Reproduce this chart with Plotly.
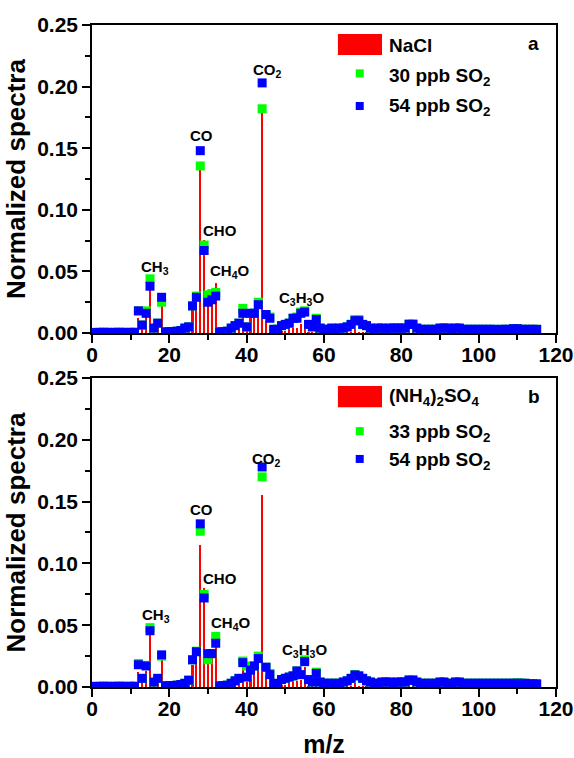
import plotly.graph_objects as go

# m/z channels
mz = list(range(1, 116))

# panel a: NaCl seed
a_nacl = [0, 0, 0, 0, 0, 0, 0, 0, 0, 0,
          0, 0.012, 0.004, 0.014, 0.042, 0.003, 0.005, 0.025, 0.0005, 0.0005,
          0.0005, 0.0005, 0.001, 0.002, 0.003, 0.020, 0.025, 0.135, 0.0758, 0.022,
          0.024, 0.041, 0.0005, 0.0005, 0.0005, 0.001, 0.002, 0.005, 0.016, 0.003,
          0.012, 0.012, 0.015, 0.182, 0.010, 0.006, 0.001, 0.001, 0.002, 0.002,
          0.003, 0.004, 0.004, 0.007, 0.007, 0.001, 0.001, 0.002, 0.0005, 0.0005,
          0.0005, 0.0005, 0.0005, 0.0005, 0.0005, 0.0005, 0.0005, 0.003, 0.0005, 0.0005,
          0.0005, 0.0005, 0.0005, 0.0005, 0.0005, 0.0005, 0.0005, 0.0005, 0.0005, 0.0005,
          0.0005, 0.001, 0.0005, 0.0005, 0.0005, 0.0005, 0.0005, 0.0005, 0.0005, 0.0005,
          0.0005, 0.0005, 0.0005, 0.0005, 0.0005, 0.0005, 0.0005, 0.0005, 0.0005, 0.0005,
          0.0005, 0.0005, 0.0005, 0.0005, 0.0005, 0.0005, 0.0005, 0.0005, 0.0005, 0.0005,
          0.0005, 0.0005, 0.0005, 0.0005, 0.0005]
a_so2_30 = [0.0005, 0.0005, 0.0006, 0.0005, 0.0005, 0.0005, 0.0006, 0.0005, 0.0005, 0.0005,
            0.0006, 0.018, 0.0065, 0.018, 0.044, 0.004, 0.008, 0.025, 0.001, 0.001,
            0.0012, 0.0015, 0.002, 0.004, 0.005, 0.022, 0.030, 0.1356, 0.0714, 0.031,
            0.032, 0.033, 0.001, 0.001, 0.0015, 0.004, 0.006, 0.008, 0.020, 0.005,
            0.016, 0.016, 0.025, 0.182, 0.015, 0.013, 0.003, 0.003, 0.006, 0.007,
            0.008, 0.012, 0.013, 0.017, 0.018, 0.007, 0.005, 0.012, 0.004, 0.003,
            0.003, 0.004, 0.003, 0.004, 0.004, 0.005, 0.007, 0.011, 0.011, 0.007,
            0.006, 0.004, 0.003, 0.004, 0.004, 0.003, 0.004, 0.004, 0.004, 0.004,
            0.004, 0.0075, 0.0075, 0.004, 0.003, 0.003, 0.003, 0.003, 0.003, 0.004,
            0.004, 0.004, 0.003, 0.004, 0.004, 0.003, 0.003, 0.003, 0.003, 0.003,
            0.003, 0.003, 0.003, 0.003, 0.0025, 0.003, 0.003, 0.003, 0.0035, 0.0035,
            0.003, 0.003, 0.003, 0.003, 0.003]
a_so2_54 = [0.0005, 0.0005, 0.0006, 0.0005, 0.0005, 0.0005, 0.0006, 0.0005, 0.0005, 0.0005,
            0.0006, 0.018, 0.0065, 0.016, 0.038, 0.004, 0.008, 0.029, 0.001, 0.001,
            0.0012, 0.0015, 0.002, 0.004, 0.005, 0.022, 0.029, 0.148, 0.067, 0.025,
            0.027, 0.030, 0.001, 0.001, 0.0015, 0.004, 0.006, 0.008, 0.016, 0.005,
            0.016, 0.016, 0.023, 0.203, 0.015, 0.012, 0.003, 0.003, 0.006, 0.007,
            0.008, 0.012, 0.012, 0.016, 0.017, 0.007, 0.005, 0.011, 0.004, 0.003,
            0.003, 0.004, 0.003, 0.004, 0.004, 0.005, 0.007, 0.010, 0.010, 0.007,
            0.006, 0.004, 0.003, 0.004, 0.004, 0.003, 0.004, 0.004, 0.004, 0.004,
            0.004, 0.007, 0.007, 0.004, 0.003, 0.003, 0.003, 0.003, 0.003, 0.004,
            0.004, 0.004, 0.003, 0.004, 0.004, 0.003, 0.003, 0.003, 0.003, 0.003,
            0.003, 0.003, 0.003, 0.003, 0.0025, 0.003, 0.003, 0.003, 0.0035, 0.0035,
            0.003, 0.003, 0.003, 0.003, 0.003]

# panel b: (NH4)2SO4 seed
b_as = [0, 0, 0, 0, 0, 0, 0, 0, 0, 0,
        0, 0.012, 0.005, 0.013, 0.043, 0.003, 0.004, 0.025, 0.0005, 0.0005,
        0.0005, 0.0005, 0.001, 0.002, 0.003, 0.018, 0.022, 0.115, 0.080, 0.020,
        0.025, 0.036, 0.0005, 0.0005, 0.0005, 0.001, 0.002, 0.004, 0.016, 0.004,
        0.012, 0.014, 0.018, 0.155, 0.010, 0.005, 0.001, 0.001, 0.002, 0.002,
        0.003, 0.004, 0.005, 0.006, 0.016, 0.001, 0.001, 0.002, 0.0005, 0.0005,
        0.0005, 0.0005, 0.0005, 0.0005, 0.0005, 0.0005, 0.0005, 0.003, 0.0005, 0.0005,
        0.0005, 0.0005, 0.0005, 0.0005, 0.0005, 0.0005, 0.0005, 0.0005, 0.0005, 0.0005,
        0.0005, 0.001, 0.0005, 0.0005, 0.0005, 0.0005, 0.0005, 0.0005, 0.0005, 0.0005,
        0.0005, 0.0005, 0.0005, 0.0005, 0.0005, 0.0005, 0.0005, 0.0005, 0.0005, 0.0005,
        0.0005, 0.0005, 0.0005, 0.0005, 0.0005, 0.0005, 0.0005, 0.0005, 0.0005, 0.0005,
        0.0005, 0.0005, 0.0005, 0.0005, 0.0005]
b_so2_33 = [0.0005, 0.0005, 0.0006, 0.0005, 0.0005, 0.0005, 0.0006, 0.0005, 0.0005, 0.0005,
            0.0006, 0.019, 0.007, 0.0175, 0.048, 0.004, 0.007, 0.025, 0.001, 0.001,
            0.0012, 0.0015, 0.002, 0.003, 0.0055, 0.022, 0.029, 0.126, 0.075, 0.022,
            0.027, 0.041, 0.001, 0.001, 0.0015, 0.003, 0.005, 0.007, 0.021, 0.017,
            0.016, 0.017, 0.025, 0.170, 0.016, 0.011, 0.003, 0.002, 0.006, 0.007,
            0.008, 0.009, 0.013, 0.010, 0.022, 0.006, 0.004, 0.012, 0.004, 0.003,
            0.003, 0.003, 0.003, 0.003, 0.004, 0.005, 0.007, 0.010, 0.009, 0.007,
            0.005, 0.004, 0.003, 0.003, 0.004, 0.004, 0.004, 0.003, 0.004, 0.004,
            0.004, 0.006, 0.006, 0.004, 0.003, 0.003, 0.003, 0.003, 0.003, 0.004,
            0.004, 0.003, 0.003, 0.004, 0.004, 0.003, 0.003, 0.003, 0.003, 0.003,
            0.003, 0.003, 0.003, 0.003, 0.003, 0.003, 0.003, 0.003, 0.003, 0.0035,
            0.003, 0.003, 0.0025, 0.0025, 0.0025]
b_so2_54 = [0.0005, 0.0005, 0.0006, 0.0005, 0.0005, 0.0005, 0.0006, 0.0005, 0.0005, 0.0005,
            0.0006, 0.018, 0.007, 0.017, 0.0455, 0.004, 0.007, 0.026, 0.001, 0.001,
            0.0012, 0.0015, 0.002, 0.003, 0.0055, 0.022, 0.0285, 0.132, 0.072, 0.027,
            0.027, 0.0354, 0.001, 0.001, 0.0015, 0.003, 0.005, 0.007, 0.0197, 0.008,
            0.0136, 0.017, 0.023, 0.178, 0.016, 0.010, 0.003, 0.002, 0.006, 0.007,
            0.008, 0.009, 0.013, 0.010, 0.0205, 0.006, 0.004, 0.011, 0.004, 0.003,
            0.003, 0.003, 0.003, 0.003, 0.004, 0.005, 0.007, 0.0098, 0.009, 0.007,
            0.005, 0.004, 0.003, 0.003, 0.004, 0.004, 0.004, 0.003, 0.004, 0.004,
            0.004, 0.0055, 0.0055, 0.004, 0.003, 0.003, 0.003, 0.003, 0.003, 0.004,
            0.004, 0.003, 0.003, 0.004, 0.004, 0.003, 0.003, 0.003, 0.003, 0.003,
            0.003, 0.003, 0.003, 0.003, 0.003, 0.003, 0.003, 0.003, 0.003, 0.003,
            0.003, 0.003, 0.0025, 0.0025, 0.0025]

# fragment labels: (text, m/z, value)
a_labels = [("CH<sub>3</sub>", 16.3, 0.053), ("CO", 28.4, 0.160), ("CHO", 33.1, 0.0836),
            ("CH<sub>4</sub>O", 35.7, 0.0498), ("CO<sub>2</sub>", 45.3, 0.213),
            ("C<sub>3</sub>H<sub>3</sub>O", 54.2, 0.028)]
b_labels = [("CH<sub>3</sub>", 16.5, 0.0575), ("CO", 28.4, 0.144), ("CHO", 33.1, 0.088),
            ("CH<sub>4</sub>O", 36.0, 0.051), ("CO<sub>2</sub>", 45.0, 0.184),
            ("C<sub>3</sub>H<sub>3</sub>O", 55.0, 0.0295)]

a_legend = ["NaCl", "30 ppb SO<sub>2</sub>", "54 ppb SO<sub>2</sub>"]
b_legend = ["(NH<sub>4</sub>)<sub>2</sub>SO<sub>4</sub>", "33 ppb SO<sub>2</sub>", "54 ppb SO<sub>2</sub>"]

RED = "#FF0000"
GREEN = "#00FF00"
BLUE = "#0000FF"
FONT = "Liberation Sans, Arial, sans-serif"

fig = go.Figure()

panels = [("x", "y", a_nacl, a_so2_30, a_so2_54), ("x2", "y2", b_as, b_so2_33, b_so2_54)]
for xa, ya, seed, low, high in panels:
    fig.add_trace(go.Bar(x=mz, y=seed, width=0.55, marker=dict(color=RED, line=dict(width=0)),
                         xaxis=xa, yaxis=ya, showlegend=False))
    fig.add_trace(go.Scatter(x=mz, y=low, mode="markers", xaxis=xa, yaxis=ya, showlegend=False,
                             marker=dict(symbol="square", size=9, color=GREEN, line=dict(width=0))))
    fig.add_trace(go.Scatter(x=mz, y=high, mode="markers", xaxis=xa, yaxis=ya, showlegend=False,
                             marker=dict(symbol="square", size=9, color=BLUE, line=dict(width=0))))

tick_font = dict(family=FONT, size=21, color="black", weight="bold")
axis_common = dict(showline=True, linecolor="black", linewidth=1.5, mirror=True,
                   ticks="outside", ticklen=8, tickwidth=1.5, tickcolor="black",
                   showgrid=False, zeroline=False, tickfont=tick_font, automargin=False)

xcommon = dict(axis_common, range=[0, 120], tick0=0, dtick=20, ticklabelstandoff=-6,
               minor=dict(dtick=10, ticks="outside", ticklen=5, tickwidth=1.5, tickcolor="black"))
ycommon = dict(axis_common, range=[0, 0.25], tick0=0, dtick=0.05, tickformat=".2f",
               minor=dict(dtick=0.025, ticks="outside", ticklen=5, tickwidth=1.5, tickcolor="black"),
               title=dict(text="Normalized spectra", standoff=4,
                          font=dict(family=FONT, size=26, color="black", weight="bold")))

fig.update_layout(
    width=574, height=758,
    margin=dict(l=92, r=18, t=25, b=71),
    paper_bgcolor="white", plot_bgcolor="white",
    bargap=0, showlegend=False,
    xaxis=dict(xcommon, anchor="y"),
    yaxis=dict(ycommon, domain=[0.5347, 1], anchor="x"),
    xaxis2=dict(xcommon, anchor="y2",
                title=dict(text="m/z", standoff=22,
                           font=dict(family=FONT, size=25, color="black", weight="bold"))),
    yaxis2=dict(ycommon, domain=[0, 0.4668], anchor="x2"),
)

lab_font = dict(family=FONT, size=15, color="black", weight="bold")
for xa, ya, labels in [("x", "y", a_labels), ("x2", "y2", b_labels)]:
    for text, xv, yv in labels:
        fig.add_annotation(x=xv, y=yv, xref=xa, yref=ya, text=text, showarrow=False,
                           font=lab_font)

# hand drawn legends and panel letters
leg_font = dict(family=FONT, size=19, color="black", weight="bold")
legend_layout = [
    ("x domain", "y domain", a_legend, (0.903, 0.971), [0.935, 0.831, 0.734], [0.843, 0.737], "a", 0.941),
    ("x2 domain", "y2 domain", b_legend, (0.905, 0.974), [0.939, 0.822, 0.732], [0.828, 0.738], "b", 0.939),
]
for xr, yr, names, (r0, r1), ty, my, letter, ly in legend_layout:
    fig.add_shape(type="rect", xref=xr, yref=yr, x0=0.530, x1=0.625, y0=r0, y1=r1,
                  fillcolor=RED, line=dict(width=0))
    for col, yc in zip([GREEN, BLUE], my):
        fig.add_shape(type="rect", xref=xr, yref=yr, xsizemode="pixel", ysizemode="pixel",
                      xanchor=0.577, yanchor=yc, x0=-4, x1=4, y0=-4, y1=4,
                      fillcolor=col, line=dict(width=0))
    for name, yt in zip(names, ty):
        fig.add_annotation(x=0.636, y=yt, xref=xr, yref=yr, text=name, showarrow=False,
                           xanchor="left", yanchor="middle", font=leg_font)
    fig.add_annotation(x=0.952, y=ly, xref=xr, yref=yr, text=letter, showarrow=False,
                       xanchor="center", yanchor="middle", font=leg_font)

# drop the default page margin so the figure fills the window exactly
fig.write_html("out.html", config={"displayModeBar": False},
               post_script="document.body.style.margin='0';")
